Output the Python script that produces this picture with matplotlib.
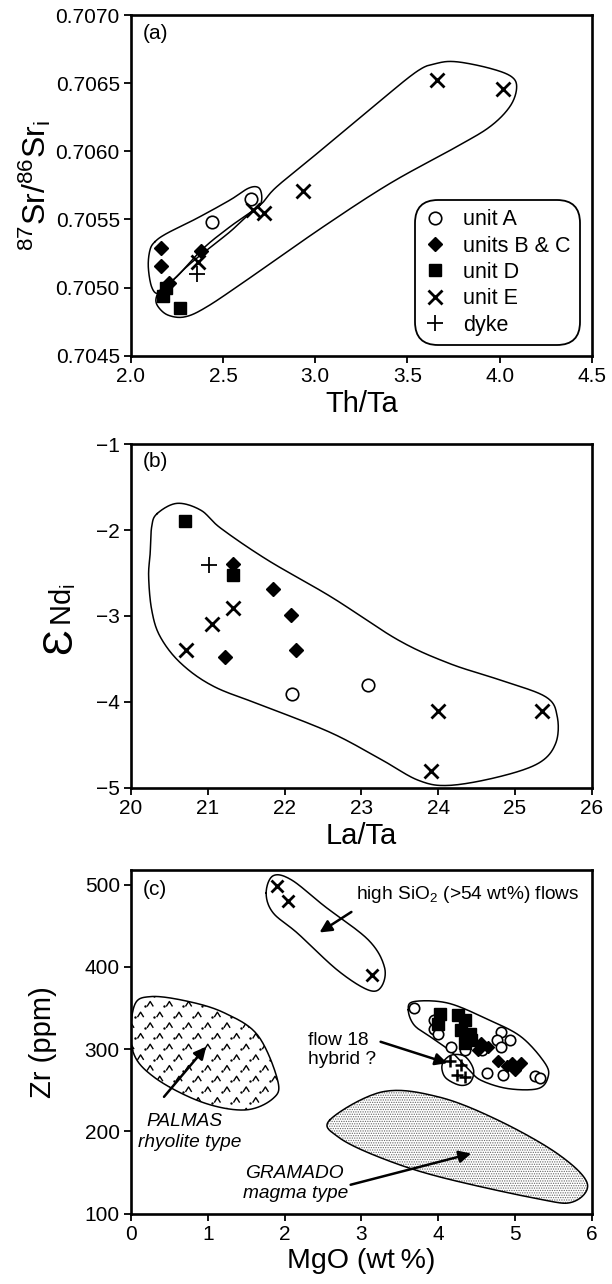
import numpy as np
import matplotlib
matplotlib.use('Agg')
import matplotlib.pyplot as plt
from matplotlib.patches import Polygon
from matplotlib.path import Path
from matplotlib.ticker import FormatStrFormatter

plt.rcParams['font.family'] = ['Liberation Sans', 'DejaVu Sans']
plt.rcParams['mathtext.fontset'] = 'custom'
plt.rcParams['mathtext.rm'] = 'Liberation Sans'
plt.rcParams['mathtext.it'] = 'Liberation Sans:italic'
plt.rcParams['hatch.linewidth'] = 0.6

# ---- panel (a): 87Sr/86Sr vs Th/Ta
a_A_x = [2.44, 2.65]
a_A_y = [0.70548, 0.70565]
a_BC_x = [2.161, 2.161, 2.378, 2.205]
a_BC_y = [0.70529, 0.70516, 0.70527, 0.70503]
a_D_x = [2.175, 2.19, 2.266]
a_D_y = [0.70494, 0.70500, 0.70485]
a_E_x = [2.365, 2.66, 2.723, 2.931, 3.658, 4.019]
a_E_y = [0.70519, 0.70557, 0.70555, 0.70571, 0.70652, 0.70646]
a_dyke_x = [2.356]
a_dyke_y = [0.70510]

a_env1_x = [2.130, 2.194, 2.356, 2.537, 2.636, 2.690, 2.709, 2.700, 2.645, 2.537,
            2.411, 2.302, 2.211, 2.148, 2.112, 2.094, 2.103]
a_env1_y = [0.705336, 0.705397, 0.705507, 0.705642, 0.705728, 0.705735, 0.705678,
            0.705605, 0.705544, 0.705409, 0.705275, 0.705152, 0.705030, 0.704957,
            0.705005, 0.705152, 0.705275]
a_env2_x = [2.700, 2.537, 2.392, 2.248, 2.166, 2.136, 2.148, 2.202, 2.293, 2.411,
            2.627, 3.043, 3.405, 3.766, 3.947, 4.055, 4.092, 4.065, 3.947, 3.766,
            3.658, 3.549, 3.314, 3.043, 2.790]
a_env2_y = [0.705605, 0.705446, 0.705287, 0.705079, 0.704993, 0.704920, 0.704858,
            0.704797, 0.704785, 0.704858, 0.705054, 0.705446, 0.705764, 0.706033,
            0.706180, 0.706327, 0.706462, 0.706547, 0.706609, 0.706657, 0.706645,
            0.706584, 0.706327, 0.706021, 0.705739]

# ---- panel (b): eNd vs La/Ta
b_A_x = [22.10, 23.08]
b_A_y = [-3.91, -3.80]
b_BC_x = [21.33, 21.85, 22.08, 22.15, 21.23]
b_BC_y = [-2.40, -2.69, -2.99, -3.40, -3.48]
b_D_x = [20.70, 21.33]
b_D_y = [-1.90, -2.52]
b_E_x = [20.71, 21.06, 21.33, 24.00, 25.35, 23.91]
b_E_y = [-3.40, -3.09, -2.91, -4.10, -4.10, -4.80]
b_dyke_x = [21.02]
b_dyke_y = [-2.41]

b_env_x = [20.34, 20.60, 20.91, 21.17, 21.78, 22.61, 23.48, 24.14, 24.79, 25.40,
           25.55, 25.53, 25.31, 24.79, 24.14, 23.74, 23.26, 22.61, 21.74, 21.08,
           20.65, 20.38, 20.27, 20.23, 20.25, 20.27]
b_env_y = [-1.81, -1.69, -1.77, -1.98, -2.35, -2.78, -3.28, -3.55, -3.74, -3.94,
           -4.17, -4.48, -4.71, -4.87, -4.97, -4.91, -4.67, -4.36, -4.05, -3.82,
           -3.55, -3.24, -2.93, -2.54, -2.27, -1.96]

# ---- panel (c): Zr vs MgO
c_hi_x = [1.90, 2.04, 3.14]
c_hi_y = [498, 480, 390]
c_f18_x = [4.15, 4.30, 4.24, 4.35]
c_f18_y = [285, 281, 269, 266]
c_A_x = [3.69, 3.95, 3.95, 4.00, 4.17, 4.35, 4.82, 4.93, 4.76, 4.82, 4.63, 4.85, 5.26, 5.32, 4.57]
c_A_y = [350, 336, 325, 318, 303, 299, 321, 311, 311, 303, 271, 268, 267, 265, 299]
c_D_x = [4.02, 4.00, 4.26, 4.35, 4.30, 4.41, 4.43, 4.35]
c_D_y = [343, 331, 342, 336, 323, 319, 311, 307]
c_BC_x = [4.56, 4.52, 4.78, 4.89, 5.00, 5.08, 4.96, 4.65]
c_BC_y = [307, 299, 285, 279, 275, 283, 283, 303]

c_hi_env_x = [1.76, 1.85, 2.09, 2.52, 3.09, 3.30, 3.26, 3.09, 2.69, 2.17, 1.85]
c_hi_env_y = [490, 511, 506, 474, 433, 400, 376, 372, 396, 441, 466]
c_main_env_x = [3.61, 3.69, 4.13, 4.65, 5.08, 5.39, 5.43, 5.30, 4.91, 4.56, 4.40, 4.18, 3.93, 3.69]
c_main_env_y = [348, 358, 356, 336, 315, 283, 266, 252, 252, 262, 275, 296, 313, 329]
c_f18_env_x = [4.07, 4.18, 4.35, 4.46, 4.42, 4.29, 4.11, 4.05]
c_f18_env_y = [285, 293, 291, 275, 260, 256, 264, 275]
palmas_x = [0.02, 0.04, 0.26, 0.75, 1.22, 1.65, 1.91, 1.85, 1.48, 0.91, 0.30]
palmas_y = [299, 352, 364, 358, 344, 317, 262, 240, 226, 236, 266]
gramado_x = [2.59, 3.27, 4.00, 4.77, 5.55, 5.94, 5.75, 5.29, 4.00, 3.22, 2.70]
gramado_y = [214, 248, 242, 214, 173, 137, 114, 118, 145, 169, 193]


def closed_curve(x, y, n=20):
    # closed Catmull-Rom spline through the outline points
    p = np.column_stack([x, y]).astype(float)
    m = len(p)
    t = np.linspace(0, 1, n, endpoint=False)[:, None]
    segs = []
    for i in range(m):
        p0, p1, p2, p3 = p[i - 1], p[i], p[(i + 1) % m], p[(i + 2) % m]
        segs.append(0.5 * (2 * p1 + (-p0 + p2) * t + (2 * p0 - 5 * p1 + 4 * p2 - p3) * t ** 2
                           + (-p0 + 3 * p1 - 3 * p2 + p3) * t ** 3))
    out = np.vstack(segs)
    return np.vstack([out, out[:1]])


def outline(ax, x, y, lw=1.1):
    c = closed_curve(x, y)
    ax.plot(c[:, 0], c[:, 1], color='k', lw=lw, zorder=2)
    return c


def style(ax):
    for s in ax.spines.values():
        s.set_linewidth(1.9)
    ax.tick_params(direction='out', length=5, width=1.3, labelsize=15, pad=3,
                   top=False, right=False)


fig = plt.figure(figsize=(6.12, 12.84), dpi=100)
ax_a = fig.add_axes([0.214, 0.723, 0.753, 0.2653])
ax_b = fig.add_axes([0.214, 0.3863, 0.753, 0.2679])
ax_c = fig.add_axes([0.214, 0.0549, 0.753, 0.2675])

circ = dict(ls='none', marker='o', ms=9, mfc='white', mec='k', mew=1.2)
diam = dict(ls='none', marker='D', ms=7, color='k')
sq = dict(ls='none', marker='s', ms=9, color='k')
cross = dict(ls='none', marker='x', ms=10, mew=2, color='k')
plus = dict(ls='none', marker='+', ms=11, mew=1.3, color='k')

# ---------- (a)
outline(ax_a, a_env1_x, a_env1_y)
outline(ax_a, a_env2_x, a_env2_y)
ax_a.plot(a_A_x, a_A_y, label='unit A', zorder=3, **circ)
ax_a.plot(a_BC_x, a_BC_y, label='units B & C', zorder=3, **diam)
ax_a.plot(a_D_x, a_D_y, label='unit D', zorder=3, **sq)
ax_a.plot(a_E_x, a_E_y, label='unit E', zorder=3, **cross)
ax_a.plot(a_dyke_x, a_dyke_y, label='dyke', zorder=3, **plus)
ax_a.set_xlim(2.0, 4.5)
ax_a.set_ylim(0.7045, 0.7070)
ax_a.set_xticks(np.arange(2.0, 4.51, 0.5))
ax_a.set_yticks(np.arange(0.7045, 0.70701, 0.0005))
ax_a.xaxis.set_major_formatter(FormatStrFormatter('%.1f'))
ax_a.yaxis.set_major_formatter(FormatStrFormatter('%.4f'))
ax_a.set_xlabel('Th/Ta', fontsize=21, labelpad=3)
ax_a.set_ylabel(r'$^{87}$Sr/$^{86}$Sr$_\mathregular{i}$', fontsize=23)
ax_a.yaxis.set_label_coords(-0.17, 0.5)
ax_a.text(0.026, 0.947, '(a)', transform=ax_a.transAxes, fontsize=15, va='center')
leg = ax_a.legend(loc='lower right', bbox_to_anchor=(0.975, 0.03), fontsize=15.5,
                  frameon=True, fancybox=True, framealpha=1, edgecolor='k',
                  handlelength=1.0, handletextpad=0.8, labelspacing=0.25,
                  borderpad=0.45, borderaxespad=0)
leg.get_frame().set_linewidth(1.3)
leg.get_frame().set_boxstyle('round,pad=0,rounding_size=1.1')
style(ax_a)

# ---------- (b)
outline(ax_b, b_env_x, b_env_y)
ax_b.plot(b_A_x, b_A_y, zorder=3, **circ)
ax_b.plot(b_D_x, b_D_y, zorder=3, **sq)
ax_b.plot(b_BC_x, b_BC_y, zorder=3, **diam)
ax_b.plot(b_E_x, b_E_y, zorder=3, **cross)
ax_b.plot(b_dyke_x, b_dyke_y, zorder=3, **plus)
ax_b.set_xlim(20, 26)
ax_b.set_ylim(-5, -1)
ax_b.set_xticks(range(20, 27))
ax_b.set_yticks(range(-5, 0))
ax_b.set_xlabel('La/Ta', fontsize=21, labelpad=3)
ax_b.text(0.026, 0.949, '(b)', transform=ax_b.transAxes, fontsize=15, va='center')
style(ax_b)

# epsilon-Nd label built from two pieces
eps = ax_b.text(-0.13, 0.39, '\u0190', transform=ax_b.transAxes, fontsize=31,
                rotation=90, rotation_mode='anchor', ha='left', va='baseline')
r = fig.canvas.get_renderer()
bb = eps.get_window_extent(r).transformed(ax_b.transAxes.inverted())
ax_b.text(-0.13, bb.y1 + 0.005, r'Nd$_\mathregular{i}$', transform=ax_b.transAxes,
          fontsize=21, rotation=90, rotation_mode='anchor', ha='left', va='baseline')

# ---------- (c)
pal = closed_curve(palmas_x, palmas_y)
pal_patch = Polygon(pal, closed=True, facecolor='white', edgecolor='none', zorder=1)
ax_c.add_patch(pal_patch)
caret = Path([(-1, -0.8), (0, 0.8), (1, -0.8)], [Path.MOVETO, Path.LINETO, Path.LINETO])
gx, gy = np.meshgrid(np.arange(0.0, 2.1, 0.25), np.arange(225, 370, 13))
gx = gx + (np.arange(gx.shape[0])[:, None] % 2) * 0.125
car = ax_c.scatter(gx.ravel(), gy.ravel(), marker=caret, s=20, facecolors='none',
                   edgecolors='k', linewidths=1.0, zorder=1.5)
car.set_clip_path(pal_patch)
dots = ax_c.scatter(gx.ravel() - 0.07, gy.ravel() - 3, marker='o', s=3, color='k',
                    linewidths=0, zorder=1.5)
dots.set_clip_path(pal_patch)
ax_c.plot(pal[:, 0], pal[:, 1], color='k', lw=1.1, zorder=2)

gra = closed_curve(gramado_x, gramado_y)
ax_c.add_patch(Polygon(gra, closed=True, facecolor='white', edgecolor='0.4', lw=0,
                       hatch='.......', zorder=1))
ax_c.plot(gra[:, 0], gra[:, 1], color='k', lw=1.1, zorder=2)

outline(ax_c, c_hi_env_x, c_hi_env_y)
outline(ax_c, c_main_env_x, c_main_env_y)
outline(ax_c, c_f18_env_x, c_f18_env_y)

ax_c.plot(c_hi_x, c_hi_y, ls='none', marker='x', ms=8, mew=2, color='k', zorder=3)
ax_c.plot(c_f18_x, c_f18_y, ls='none', marker='+', ms=9, mew=1.8, color='k', zorder=3)
ax_c.plot(c_A_x, c_A_y, ls='none', marker='o', ms=7.5, mfc='white', mec='k', mew=1.2, zorder=3)
ax_c.plot(c_D_x, c_D_y, ls='none', marker='s', ms=8, color='k', zorder=4)
ax_c.plot(c_BC_x, c_BC_y, ls='none', marker='D', ms=6.5, color='k', zorder=4)

arr = dict(arrowstyle='-|>', color='k', lw=1.8, mutation_scale=18, shrinkA=0, shrinkB=0)
ax_c.annotate('', xy=(2.455, 442), xytext=(2.87, 467), arrowprops=arr)
ax_c.annotate('', xy=(0.98, 303), xytext=(0.43, 242), arrowprops=arr)
ax_c.annotate('', xy=(4.12, 283), xytext=(3.25, 309), arrowprops=arr)
ax_c.annotate('', xy=(4.43, 173), xytext=(2.86, 135), arrowprops=arr)

fs = 13.8
ax_c.text(4.38, 488, 'high SiO$_2$ (>54 wt%) flows', fontsize=fs, ha='center', va='center')
ax_c.text(2.31, 310, 'flow 18', fontsize=fs, ha='left', va='center')
ax_c.text(2.31, 287, 'hybrid ?', fontsize=fs, ha='left', va='center')
ax_c.text(0.70, 212, 'PALMAS', fontsize=fs, style='italic', ha='center', va='center')
ax_c.text(0.77, 187, 'rhyolite type', fontsize=fs, style='italic', ha='center', va='center')
ax_c.text(2.13, 149, 'GRAMADO', fontsize=fs, style='italic', ha='center', va='center')
ax_c.text(2.15, 124, 'magma type', fontsize=fs, style='italic', ha='center', va='center')

ax_c.set_xlim(0, 6)
ax_c.set_ylim(100, 518)
ax_c.set_xticks(range(0, 7))
ax_c.set_yticks(range(100, 501, 100))
ax_c.set_xlabel('MgO (wt\u2009%)', fontsize=20.5, labelpad=3)
ax_c.set_ylabel('Zr (ppm)', fontsize=21)
ax_c.yaxis.set_label_coords(-0.16, 0.5)
ax_c.text(0.026, 0.942, '(c)', transform=ax_c.transAxes, fontsize=15, va='center')
style(ax_c)

fig.savefig('out.png', dpi=100)
